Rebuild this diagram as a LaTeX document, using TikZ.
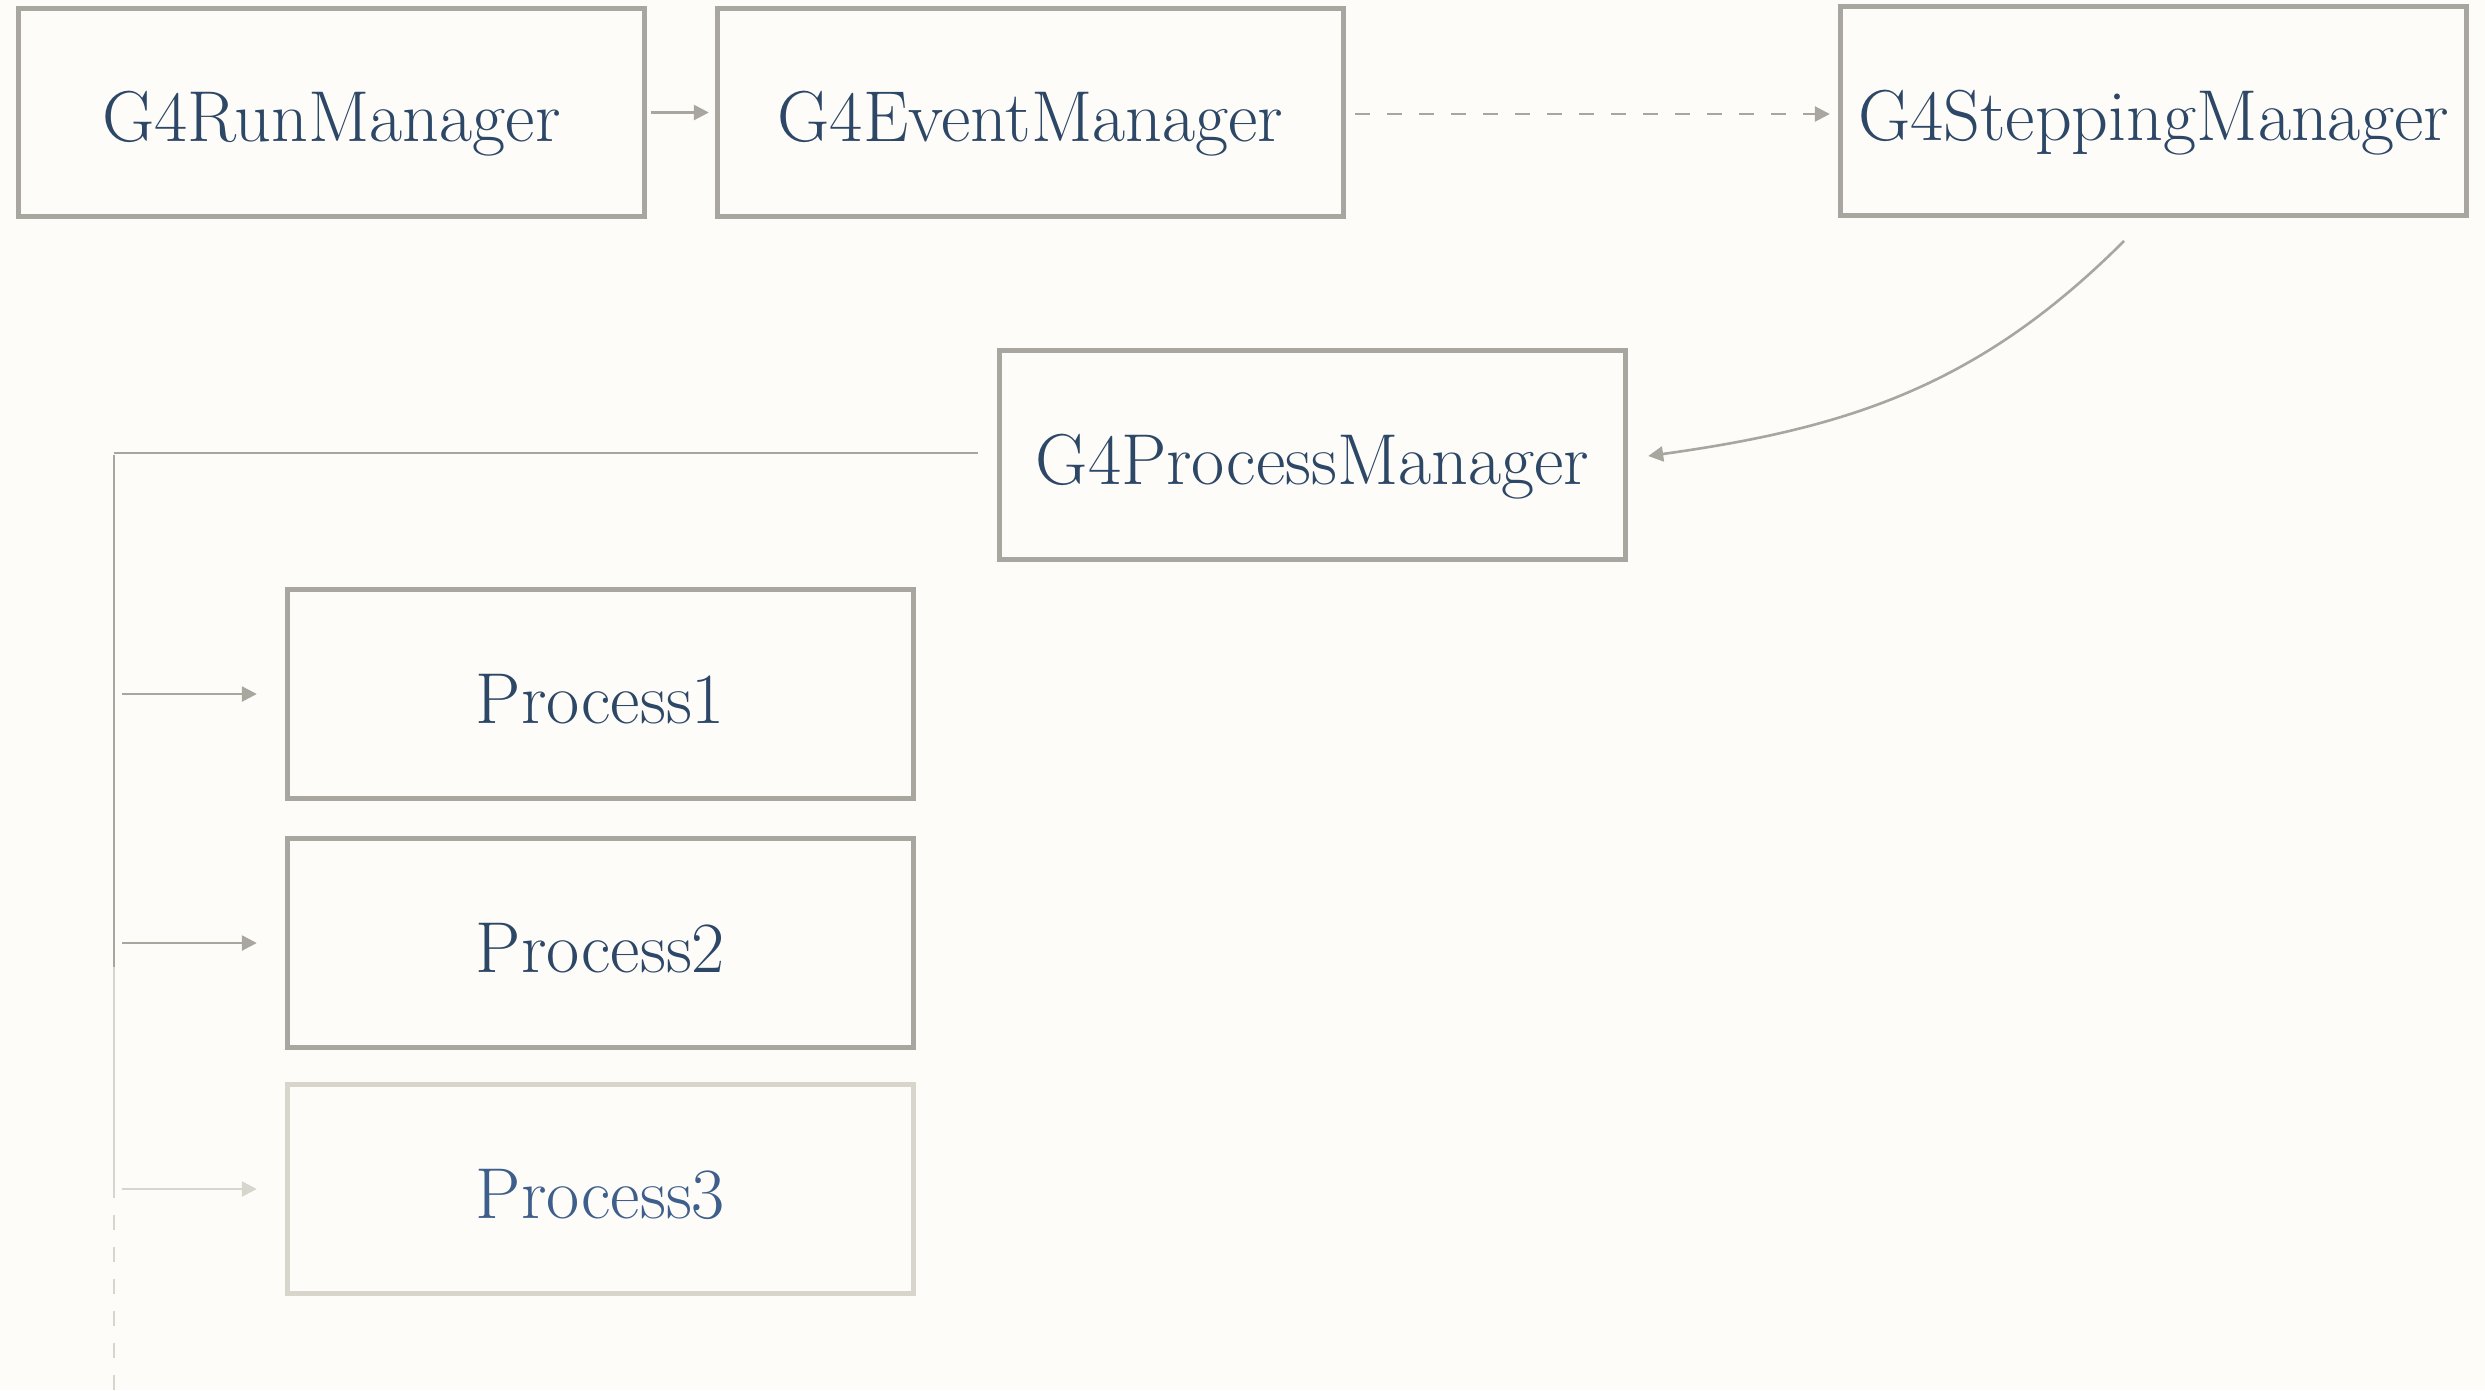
\documentclass[tikz,border=0pt]{standalone}
\usetikzlibrary{arrows.meta,calc}
\definecolor{bgc}{HTML}{FDFCF8}
\definecolor{edge}{HTML}{A9A59F}
\definecolor{faint}{HTML}{D7D5CC}
\definecolor{ink}{HTML}{2D4767}
\definecolor{inklight}{HTML}{3E5E8B}
\begin{document}
\begin{tikzpicture}[x=0.01cm,y=-0.01cm,
  box/.style={draw=edge,line width=0.05cm,fill=bgc,inner sep=0pt,
    minimum width=6.26cm,minimum height=2.08cm,text=ink,
    text height=0.58cm,text depth=0cm,
    font=\fontsize{20.5}{24}\selectfont},
  fadedbox/.style={box,draw=faint,text=inklight},
  conn/.style={draw=edge,line width=0.026cm},
  arr/.style={conn,-{Triangle[length=0.15cm,width=0.15cm]}},
  dashpat/.style={dash pattern=on 0.15cm off 0.17cm}]
\fill[bgc] (0,0) rectangle (2485,1390);
\useasboundingbox (0,0) rectangle (2485,1390);
% nodes
\node[box] (run)   at (331.5,112.5) {G4RunManager};
\node[box] (event) at (1030.5,112.5) {G4EventManager};
\node[box] (step)  at (2153.5,111) {G4SteppingManager};
\node[box] (pm)    at (1312.5,455) {G4ProcessManager};
\node[box] (p1)    at (600.5,694) {Process1};
\node[box] (p2)    at (600.5,943) {Process2};
\node[fadedbox] (p3) at (600.5,1189) {Process3};
% coordinates
\coordinate (cs)  at (2124,241);
\coordinate (hl)  at (978,453);
\coordinate (tc)  at (114,453);
\coordinate (tv0) at (114,455);
\coordinate (tv1) at (114,967);
\coordinate (tv2) at (114,1183);
\coordinate (tv3) at (114,1390);
\coordinate (b1)  at (122,694);
\coordinate (b2)  at (122,943);
\coordinate (b3)  at (122,1189);
% connectors
\draw[arr,shorten <=0.04cm,shorten >=0.06cm] (run.east) -- (event.west);
\draw[arr,dashpat,shorten <=0.09cm,shorten >=0.08cm] (event.east|-0,114) -- (step.west|-0,114);
\draw[arr] (cs) .. controls (1980,385) and (1850,428) .. ($(pm.east)+(20,1)$);
\draw[conn] (hl) -- (tc);
\draw[conn] (tv0) -- (tv1);
\draw[conn,draw=faint] (tv1) -- (tv2);
\draw[conn,draw=faint,dashpat] (tv2) -- (tv3);
\draw[arr,shorten >=0.28cm] (b1) -- (p1.west);
\draw[arr,shorten >=0.28cm] (b2) -- (p2.west);
\draw[arr,draw=faint,fill=faint,shorten >=0.28cm] (b3) -- (p3.west);
\end{tikzpicture}
\end{document}
